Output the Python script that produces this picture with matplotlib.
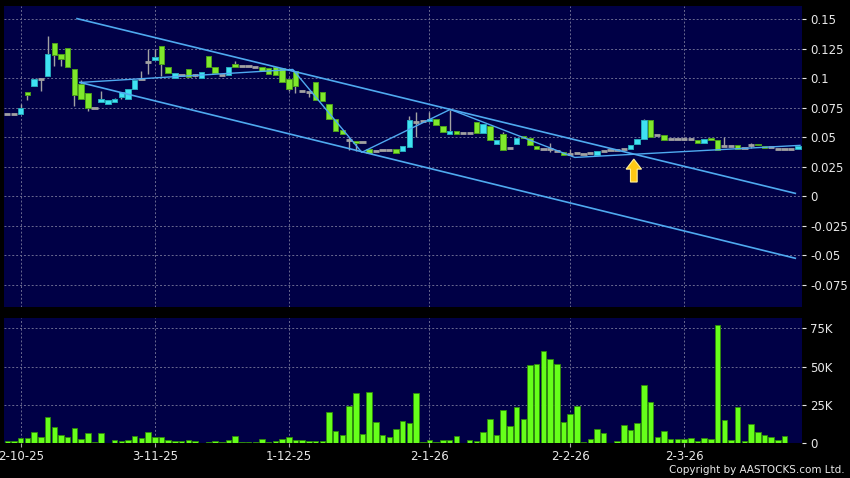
import matplotlib
matplotlib.use('Agg')
import matplotlib.pyplot as plt
import numpy as np
from matplotlib.patches import FancyArrow

# ---------------- data ----------------
tick_labels = ['2-10-25', '3-11-25', '1-12-25', '2-1-26', '2-2-26', '2-3-26']
tick_idx = [2, 22, 42, 63, 84, 101]

opens = [0.0700, 0.0700, 0.0700, 0.0884, 0.0932, 0.0994, 0.1016, 0.1298, 0.1205, 0.1256,
         0.1078, 0.0952, 0.0876, 0.0749, 0.0797, 0.0777, 0.0797, 0.0838, 0.0825, 0.0910,
         0.0994, 0.1134, 0.1157, 0.1275, 0.1098, 0.0999, 0.1028, 0.1078, 0.1028, 0.1002,
         0.1191, 0.1092, 0.1028, 0.1028, 0.1115, 0.1106, 0.1100, 0.1098, 0.1092, 0.1084,
         0.1092, 0.1087, 0.0994, 0.1064, 0.0887, 0.0880, 0.0966, 0.0881, 0.0783, 0.0656,
         0.0557, 0.0473, 0.0470, 0.0456, 0.0403, 0.0383, 0.0389, 0.0389, 0.0397, 0.0383,
         0.0417, 0.0628, 0.0636, 0.0640, 0.0656, 0.0591, 0.0530, 0.0552, 0.0538, 0.0538,
         0.0628, 0.0535, 0.0591, 0.0445, 0.0530, 0.0410, 0.0445, 0.0504, 0.0496, 0.0425,
         0.0403, 0.0400, 0.0383, 0.0374, 0.0360, 0.0366, 0.0360, 0.0366, 0.0352, 0.0380,
         0.0389, 0.0389, 0.0397, 0.0403, 0.0445, 0.0487, 0.0648, 0.0515, 0.0515, 0.0487,
         0.0487, 0.0487, 0.0487, 0.0479, 0.0455, 0.0496, 0.0479, 0.0425, 0.0425, 0.0430,
         0.0408, 0.0431, 0.0445, 0.0420, 0.0416, 0.0403, 0.0403, 0.0403, 0.0403]
highs = [0.0700, 0.0700, 0.0780, 0.0884, 0.0994, 0.0994, 0.1360, 0.1298, 0.1205, 0.1256,
         0.1078, 0.0980, 0.0876, 0.0749, 0.0895, 0.0817, 0.0830, 0.0881, 0.0910, 0.0985,
         0.1060, 0.1250, 0.1250, 0.1275, 0.1098, 0.1045, 0.1028, 0.1078, 0.1035, 0.1050,
         0.1191, 0.1092, 0.1028, 0.1092, 0.1145, 0.1106, 0.1100, 0.1098, 0.1092, 0.1084,
         0.1092, 0.1087, 0.0994, 0.1064, 0.0887, 0.0880, 0.0966, 0.0881, 0.0783, 0.0656,
         0.0557, 0.0500, 0.0470, 0.0456, 0.0403, 0.0383, 0.0389, 0.0389, 0.0397, 0.0422,
         0.0676, 0.0712, 0.0636, 0.0713, 0.0656, 0.0591, 0.0726, 0.0552, 0.0538, 0.0538,
         0.0628, 0.0608, 0.0591, 0.0479, 0.0543, 0.0410, 0.0496, 0.0504, 0.0496, 0.0425,
         0.0403, 0.0447, 0.0383, 0.0374, 0.0397, 0.0366, 0.0360, 0.0366, 0.0380, 0.0380,
         0.0389, 0.0389, 0.0397, 0.0431, 0.0487, 0.0655, 0.0648, 0.0515, 0.0515, 0.0487,
         0.0487, 0.0500, 0.0487, 0.0479, 0.0487, 0.0496, 0.0479, 0.0500, 0.0425, 0.0430,
         0.0408, 0.0453, 0.0445, 0.0420, 0.0416, 0.0403, 0.0403, 0.0403, 0.0425]
lows = [0.0700, 0.0700, 0.0700, 0.0816, 0.0932, 0.0890, 0.1016, 0.1100, 0.1106, 0.1092,
        0.0760, 0.0819, 0.0720, 0.0749, 0.0797, 0.0777, 0.0797, 0.0820, 0.0825, 0.0910,
        0.0994, 0.1036, 0.1157, 0.1020, 0.1041, 0.0999, 0.1028, 0.1008, 0.1012, 0.1002,
        0.1092, 0.1041, 0.1028, 0.1028, 0.1098, 0.1106, 0.1100, 0.1098, 0.1056, 0.1036,
        0.1030, 0.0966, 0.0890, 0.0873, 0.0887, 0.0839, 0.0817, 0.0810, 0.0656, 0.0552,
        0.0530, 0.0390, 0.0380, 0.0456, 0.0366, 0.0383, 0.0389, 0.0389, 0.0366, 0.0383,
        0.0417, 0.0500, 0.0636, 0.0628, 0.0600, 0.0543, 0.0530, 0.0530, 0.0538, 0.0538,
        0.0535, 0.0535, 0.0479, 0.0445, 0.0394, 0.0410, 0.0445, 0.0496, 0.0430, 0.0397,
        0.0403, 0.0377, 0.0383, 0.0346, 0.0360, 0.0366, 0.0360, 0.0366, 0.0352, 0.0380,
        0.0389, 0.0389, 0.0397, 0.0403, 0.0445, 0.0487, 0.0500, 0.0515, 0.0473, 0.0487,
        0.0487, 0.0480, 0.0487, 0.0452, 0.0455, 0.0479, 0.0389, 0.0425, 0.0425, 0.0400,
        0.0408, 0.0406, 0.0431, 0.0410, 0.0416, 0.0403, 0.0403, 0.0403, 0.0403]
closes = [0.0700, 0.0700, 0.0750, 0.0860, 0.0994, 0.0994, 0.1200, 0.1199, 0.1163, 0.1092,
          0.0859, 0.0819, 0.0749, 0.0749, 0.0825, 0.0817, 0.0827, 0.0881, 0.0910, 0.0985,
          0.0994, 0.1134, 0.1182, 0.1115, 0.1041, 0.1045, 0.1028, 0.1008, 0.1028, 0.1050,
          0.1092, 0.1041, 0.1028, 0.1092, 0.1098, 0.1106, 0.1100, 0.1098, 0.1056, 0.1036,
          0.1030, 0.0966, 0.0910, 0.0937, 0.0887, 0.0880, 0.0817, 0.0810, 0.0656, 0.0552,
          0.0530, 0.0473, 0.0450, 0.0456, 0.0366, 0.0383, 0.0389, 0.0389, 0.0366, 0.0422,
          0.0642, 0.0628, 0.0636, 0.0652, 0.0600, 0.0543, 0.0552, 0.0530, 0.0538, 0.0538,
          0.0535, 0.0608, 0.0479, 0.0479, 0.0394, 0.0410, 0.0496, 0.0496, 0.0430, 0.0397,
          0.0403, 0.0400, 0.0383, 0.0346, 0.0360, 0.0366, 0.0360, 0.0366, 0.0380, 0.0380,
          0.0389, 0.0389, 0.0397, 0.0431, 0.0487, 0.0648, 0.0500, 0.0515, 0.0473, 0.0487,
          0.0487, 0.0487, 0.0487, 0.0452, 0.0487, 0.0479, 0.0389, 0.0425, 0.0425, 0.0400,
          0.0408, 0.0431, 0.0431, 0.0410, 0.0416, 0.0403, 0.0403, 0.0403, 0.0425]
volume = [1500, 1500, 3500, 3500, 7200, 3900, 17400, 10900, 5200, 4100,
          9800, 2800, 6700, 700, 6700, 400, 2200, 1500, 2400, 4600,
          3500, 7200, 4100, 4300, 2400, 1300, 1300, 2200, 1500, 200,
          900, 1300, 900, 2200, 4800, 900, 700, 1100, 2800, 900,
          1700, 2600, 3900, 2200, 2000, 1300, 1500, 1500, 20200, 7800,
          5600, 24300, 33000, 5900, 33500, 13900, 5400, 4100, 9300, 14800,
          13500, 33000, 1100, 2200, 900, 2200, 2200, 4800, 300, 2200,
          1500, 7600, 15800, 5400, 22000, 11300, 23900, 15800, 51000, 52000,
          60000, 55000, 51600, 13700, 19000, 24500, 1100, 2600, 9100, 6500,
          200, 1500, 11700, 8500, 13200, 38200, 27100, 4300, 8200, 2600,
          2800, 2800, 3300, 1500, 3700, 2800, 77000, 15200, 2400, 23900,
          1500, 12800, 7400, 5600, 3900, 2000, 4800, 200, 400]

# drawn annotation lines (index, price)
upper_x = [10.4, 117.6]
upper_y = [0.1503, 0.0025]
lower_x = [10.85, 117.6]
lower_y = [0.0963, -0.0524]
zig_x = [10.85, 42.6, 52.9, 66.1, 84.7, 118.3]
zig_y = [0.0963, 0.1073, 0.0372, 0.0735, 0.0329, 0.0431]
arrow_x = 93.5
arrow_base, arrow_tip = 0.0121, 0.0315

price_ticks = [0.15, 0.125, 0.1, 0.075, 0.05, 0.025, 0, -0.025, -0.05, -0.075]
price_labels = ['0.15', '0.125', '0.1', '0.075', '0.05', '0.025', '0', '-0.025', '-0.05', '-0.075']
vol_ticks = [0, 25000, 50000, 75000]
vol_labels = ['0', '25K', '50K', '75K']

# ---------------- style ----------------
BG = '#000046'
GRID = '#6a6a90'
CYAN, CYAN_E = '#3fe2f2', '#26a9bb'
GREEN, GREEN_E = '#7fe82c', '#4c9f1c'
DOJI = '#a2a2a2'
VOL, VOL_E = '#66ff1a', '#2f8a0a'
LINE = '#4faaf0'
TXT = '#e8e8e8'

fig = plt.figure(figsize=(8.5, 4.78), dpi=100, facecolor='black')
W, H = 850, 478
ax = fig.add_axes([4 / W, 1 - 306.5 / H, 798 / W, 301 / H])
axv = fig.add_axes([4 / W, 1 - 443.3 / H, 798 / W, 125 / H])

for a in (ax, axv):
    a.set_facecolor(BG)
    for s in a.spines.values():
        s.set_visible(False)
    a.set_xlim(-0.5, 118.6)
    a.set_xticks(tick_idx)
    a.grid(True, color=GRID, ls=(0, (2, 2)), lw=0.7)
    a.set_axisbelow(True)
    a.yaxis.tick_right()
    a.tick_params(axis='y', colors=TXT, labelsize=8.5, length=3, width=0.8, pad=3)

ax.tick_params(axis='x', length=0, labelbottom=False)
axv.tick_params(axis='x', colors='#aaaaaa', labelcolor=TXT, labelsize=8.5, length=3, width=0.8, pad=2)
axv.set_xticklabels(tick_labels)

# candles
x = np.arange(len(opens))
o = np.array(opens); c = np.array(closes); h = np.array(highs); l = np.array(lows)
up = c > o
dn = c < o
fl = c == o
ax.vlines(x, l, h, color=DOJI, lw=1.0, zorder=2)
bmin = 0.0014
ax.bar(x[up], np.maximum(c[up] - o[up], bmin), bottom=o[up], width=0.82,
       color=CYAN, edgecolor=CYAN_E, lw=0.7, zorder=3)
ax.bar(x[dn], np.maximum(o[dn] - c[dn], bmin), bottom=c[dn], width=0.82,
       color=GREEN, edgecolor=GREEN_E, lw=0.7, zorder=3)
ax.hlines(c[fl], x[fl] - 0.47, x[fl] + 0.47, color=DOJI, lw=2.0, zorder=3)

# drawn lines
ax.plot(upper_x, upper_y, color=LINE, lw=1.2, zorder=4)
ax.plot(lower_x, lower_y, color=LINE, lw=1.2, zorder=4)
ax.plot(zig_x, zig_y, color=LINE, lw=1.0, zorder=4)

# arrow
ax.add_patch(FancyArrow(arrow_x, arrow_base, 0, arrow_tip - arrow_base, width=1.0,
                        head_width=2.3, head_length=0.0085, length_includes_head=True,
                        facecolor='#ffc814', edgecolor='#fff09a', lw=0.8, zorder=6))

ax.set_ylim(-0.0932, 0.1614)
ax.set_yticks(price_ticks)
ax.set_yticklabels(price_labels)

# volume
axv.bar(x, volume, width=0.82, color=VOL, edgecolor=VOL_E, lw=0.6, zorder=3)
axv.set_ylim(0, 81500)
axv.set_yticks(vol_ticks)
axv.set_yticklabels(vol_labels)

fig.text(845 / W, 1 - 470 / H, 'Copyright by AASTOCKS.com Ltd.', color=TXT,
         fontsize=7.5, ha='right', va='center')

fig.savefig('out.png', dpi=100, facecolor='black')
